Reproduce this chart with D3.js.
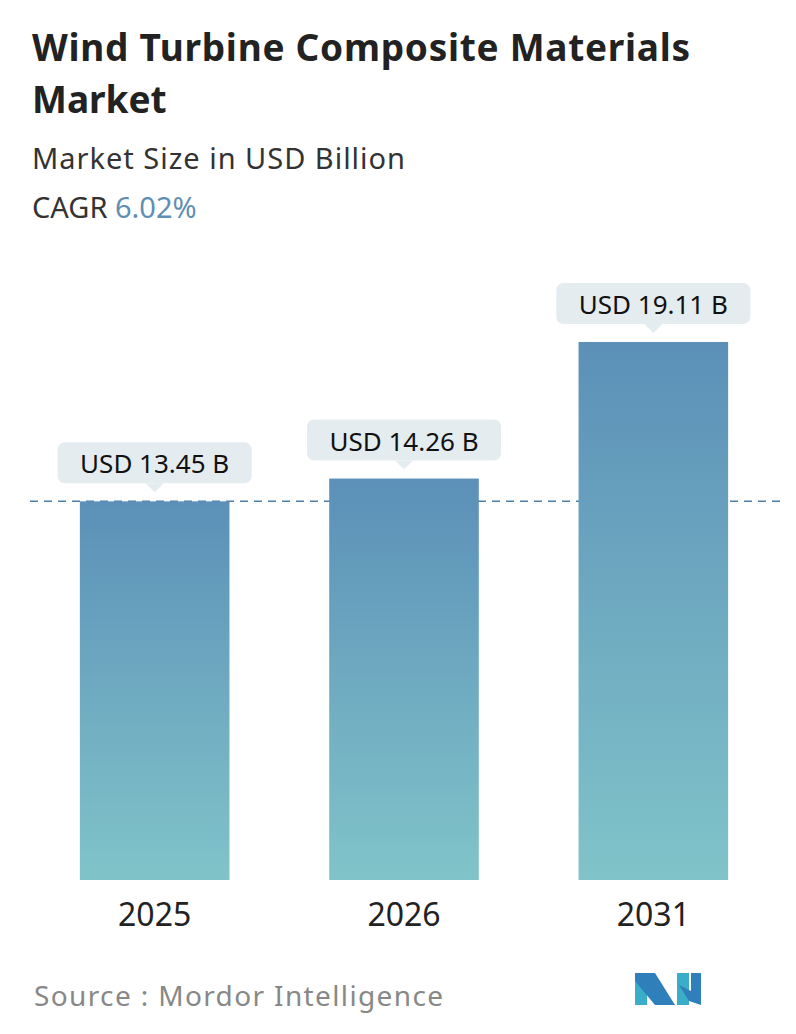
<!DOCTYPE html>
<html><head><meta charset="utf-8">
<script src="https://cdn.jsdelivr.net/npm/d3@7"></script>
<style>body{margin:0;background:#fff}svg{font-family:"Noto Sans","Open Sans",sans-serif}</style>
</head><body>
<div id="vis"></div>
<script>
// chart data
const YEARS = ["2025", "2026", "2031"];
const VALUES = [13.45, 14.26, 19.11];
const LABELS = ["USD 13.45 B", "USD 14.26 B", "USD 19.11 B"];

const W = 796, H = 1034;
const BASE = 880;

const svg = d3.select("#vis").append("svg").attr("width", W).attr("height", H);

// gradient for bars
const grad = svg.append("defs").append("linearGradient")
  .attr("id", "barGrad").attr("x1", 0).attr("y1", 0).attr("x2", 0).attr("y2", 1);
grad.append("stop").attr("offset", "0%").attr("stop-color", "#5c90b8");
grad.append("stop").attr("offset", "100%").attr("stop-color", "#80c4c9");

// title block
svg.append("text").attr("x", 32).attr("y", 61).attr("font-size", 37).attr("font-weight", "bold")
  .attr("fill", "#222").attr("textLength", 658).text("Wind Turbine Composite Materials");
svg.append("text").attr("x", 32).attr("y", 113).attr("font-size", 37).attr("font-weight", "bold")
  .attr("fill", "#222").text("Market");
svg.append("text").attr("x", 32).attr("y", 169).attr("font-size", 29).attr("fill", "#333")
  .attr("textLength", 373).text("Market Size in USD Billion");
const cagr = svg.append("text").attr("x", 32).attr("y", 218).attr("font-size", 29).attr("fill", "#333");
cagr.append("tspan").text("CAGR ");
cagr.append("tspan").attr("fill", "#5f8fb5").text("6.02%");

// scales
const X = d3.scaleBand().domain(YEARS).range([30, 778]).paddingInner(0.4).paddingOuter(0.2);
const Y = d3.scaleLinear().domain([0, 19.11]).range([BASE, 342]);

// dashed reference line at first value
svg.append("line").attr("x1", 30).attr("x2", 780)
  .attr("y1", Y(VALUES[0])).attr("y2", Y(VALUES[0]))
  .attr("stroke", "#4f7fa8").attr("stroke-width", 1.5).attr("stroke-dasharray", "8,6");

// bars
svg.selectAll("rect.bar").data(YEARS).enter().append("rect")
  .attr("class", "bar")
  .attr("x", d => X(d)).attr("width", X.bandwidth())
  .attr("y", (d, i) => Y(VALUES[i])).attr("height", (d, i) => BASE - Y(VALUES[i]))
  .attr("fill", "url(#barGrad)");

// value labels
const lab = svg.selectAll("g.lab").data(YEARS).enter().append("g")
  .attr("transform", (d, i) => "translate(" + (X(d) + X.bandwidth() / 2) + "," + (Y(VALUES[i]) - 18) + ")");
lab.append("rect").attr("x", -97).attr("y", -41).attr("width", 194).attr("height", 41)
  .attr("rx", 7).attr("fill", "#e4ecef");
lab.append("path").attr("d", "M-9,0 L0,9 L9,0 Z").attr("fill", "#e4ecef");
lab.append("text").attr("text-anchor", "middle").attr("y", -10).attr("font-size", 26)
  .attr("fill", "#111").text((d, i) => LABELS[i]);

// x axis labels
svg.selectAll("text.year").data(YEARS).enter().append("text")
  .attr("x", d => X(d) + X.bandwidth() / 2).attr("y", 926)
  .attr("text-anchor", "middle").attr("font-size", 32).attr("fill", "#222").text(d => d);

// source
svg.append("text").attr("x", 34).attr("y", 1006).attr("font-size", 28).attr("fill", "#888")
  .attr("textLength", 409).text("Source :  Mordor Intelligence");

// logo
const logo = svg.append("g").attr("transform", "translate(635,973)");
logo.append("path").attr("d", "M0,0 L12,0 L12,32 L0,32 Z").attr("fill", "#3aaec9");
logo.append("path").attr("d", "M0,0 L20,0 L40,32 L20,32 L0,8 Z").attr("fill", "#2f7fba");
logo.append("path").attr("d", "M42,0 L54,0 L54,32 L42,32 Z").attr("fill", "#3aaec9");
logo.append("path").attr("d", "M44,12 L54,28 L66,32 L66,0 L56,0 L56,18 Z").attr("fill", "#2f7fba");
</script>
</body></html>
